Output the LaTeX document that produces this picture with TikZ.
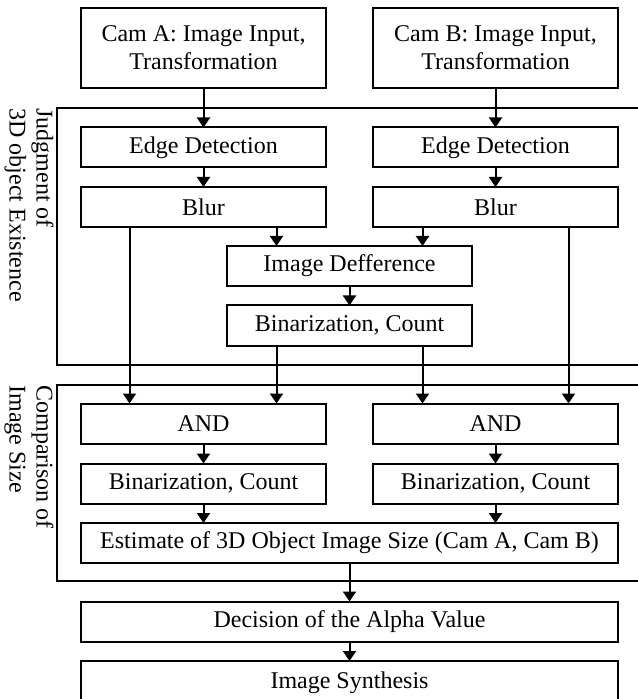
\documentclass[tikz,border=0pt]{standalone}
\usepackage{fontspec}
\setmainfont{Liberation Serif}
\usetikzlibrary{arrows.meta}

\tikzset{
  box/.style={draw, line width=1pt, inner sep=0pt, outer sep=0pt,
    minimum width=122.5pt, minimum height=20pt, align=center,
    font=\fontsize{12}{14}\selectfont},
  wide/.style={box, minimum width=268.5pt},
  arr/.style={line width=1pt, -{Triangle[width=6.5pt,length=5pt]}},
  frame/.style={draw, line width=1pt},
  side/.style={rotate=-90, anchor=north west, align=left, inner sep=0pt,
    font=\fontsize{12}{13.5}\selectfont}
}

\begin{document}
\begin{tikzpicture}[x=0.5pt, y=-0.5pt]
  % Keep the page the size of the picture
  \useasboundingbox (0,0) rectangle (637,699);
  % Two frames (their right ends run off the page)
  \draw[frame] (57,108) rectangle (660,365);
  \draw[frame] (57,385) rectangle (660,581);
  \node[side] (lbl1) at (54,108) {Judgment of\\3D object Existence};
  \node[side] (lbl2) at (54,385) {Comparison of\\Image Size};
  % Camera inputs
  \node[box, minimum height=40pt] (camA) at (203.5,48) {Cam A: Image Input,\\Transformation};
  \node[box, minimum height=40pt] (camB) at (495.5,48) {Cam B: Image Input,\\Transformation};
  % First frame
  \node[box] (edgeA) at (203.5,147.5) {Edge Detection};
  \node[box] (edgeB) at (495.5,147.5) {Edge Detection};
  \node[box] (blurA) at (203.5,207) {Blur};
  \node[box] (blurB) at (495.5,207) {Blur};
  \node[box] (diff) at (349.5,266) {Image Defference};
  \node[box] (bincnt) at (349.5,325.5) {Binarization, Count};
  % Second frame
  \node[box] (andA) at (203.5,423.5) {AND};
  \node[box] (andB) at (495.5,423.5) {AND};
  \node[box] (cntA) at (203.5,483.5) {Binarization, Count};
  \node[box] (cntB) at (495.5,483.5) {Binarization, Count};
  \node[wide] (est) at (349.5,543) {Estimate of 3D Object Image Size (Cam A, Cam B)};
  % Last steps
  \node[wide] (alpha) at (349.5,621.5) {Decision of the Alpha Value};
  \node[wide, minimum height=22pt] (synth) at (349.5,683) {Image Synthesis};
  % Straight arrows down each column
  \draw[arr] (camA) -- (edgeA);
  \draw[arr] (camB) -- (edgeB);
  \draw[arr] (edgeA) -- (blurA);
  \draw[arr] (edgeB) -- (blurB);
  \draw[arr] (diff) -- (bincnt);
  \draw[arr] (andA) -- (cntA);
  \draw[arr] (andB) -- (cntB);
  \draw[arr] (cntA) -- (cntA |- est.north);
  \draw[arr] (cntB) -- (cntB |- est.north);
  \draw[arr] (est) -- (alpha);
  \draw[arr] (alpha) -- (synth);
  % Blur into the difference
  \draw[arr] ([xshift=36.5pt]blurA.south) -- ([xshift=36.5pt]blurA.south |- diff.north);
  \draw[arr] ([xshift=-36.5pt]blurB.south) -- ([xshift=-36.5pt]blurB.south |- diff.north);
  % Blur and count into the AND boxes
  \draw[arr] ([xshift=-37pt]blurA.south) -- ([xshift=-37pt]blurA.south |- andA.north);
  \draw[arr] ([xshift=36.5pt]blurB.south) -- ([xshift=36.5pt]blurB.south |- andB.north);
  \draw[arr] ([xshift=-36.5pt]bincnt.south) -- ([xshift=-36.5pt]bincnt.south |- andA.north);
  \draw[arr] ([xshift=36.5pt]bincnt.south) -- ([xshift=36.5pt]bincnt.south |- andB.north);
\end{tikzpicture}
\end{document}
